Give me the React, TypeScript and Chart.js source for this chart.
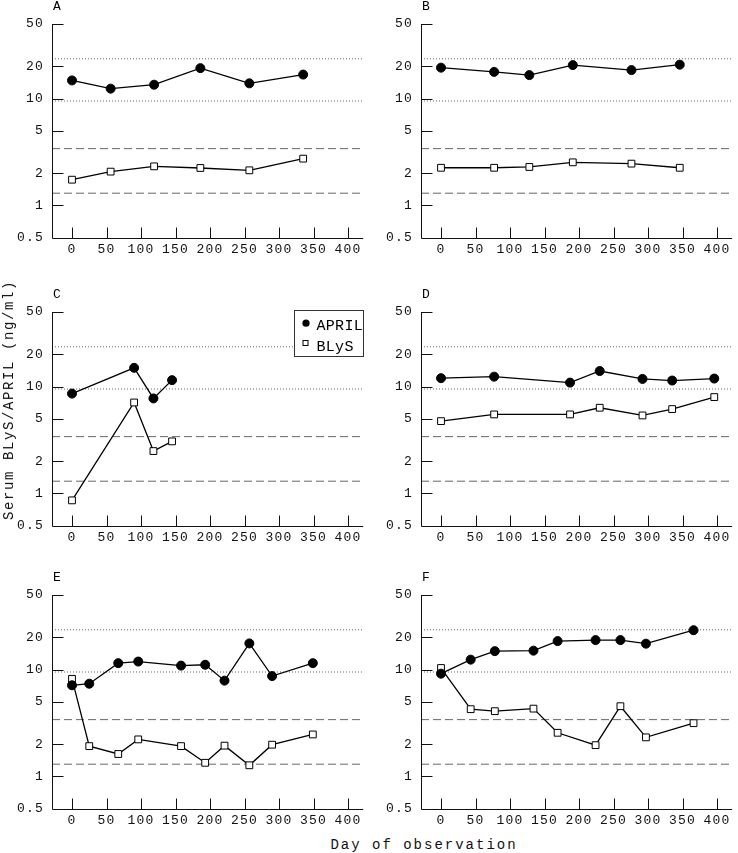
import React, { useEffect, useRef } from "react";
import { Chart, registerables } from "chart.js";

Chart.register(...registerables);

// ---- axis / reference data ----
const dayTicks = [0, 50, 100, 150, 200, 250, 300, 350, 400];
const concTicks = [0.5, 1, 2, 5, 10, 20, 50];
const dayMin = -29;
const dayMax = 422;
const aprilNormal = [9.5, 23.6];
const blysNormal = [1.3, 3.4];
const seriesNames = ["APRIL", "BLyS"];
const panelLetters = ["A", "B", "C", "D", "E", "F"];

// ---- panel data ----
const daysA = [0, 56, 119, 186, 257, 335];
const aprilA = [14.8, 12.4, 13.5, 19.3, 13.9, 16.8];
const blysA = [1.74, 2.07, 2.32, 2.24, 2.13, 2.74];

const daysB = [0, 77, 128, 191, 276, 346];
const aprilB = [19.5, 17.8, 16.6, 20.6, 18.5, 20.8];
const blysB = [2.25, 2.25, 2.29, 2.53, 2.46, 2.25];

const daysC = [0, 90, 118, 145];
const aprilC = [8.6, 15.0, 7.75, 11.5];
const blysC = [0.86, 7.1, 2.49, 3.07];

const daysD = [0, 77, 187, 230, 292, 335, 396];
const aprilD = [12.0, 12.4, 10.9, 14.0, 11.8, 11.4, 11.9];
const blysD = [4.75, 5.49, 5.49, 6.34, 5.37, 6.16, 7.98];

const daysE = [0, 25, 67, 96, 158, 193, 221, 257, 290, 349];
const aprilE = [7.13, 7.38, 11.5, 11.9, 10.9, 11.1, 7.88, 17.6, 8.7, 11.5];
const blysE = [8.2, 1.92, 1.62, 2.22, 1.92, 1.34, 1.94, 1.27, 1.98, 2.47];

const daysF = [0, 43, 78, 134, 169, 224, 260, 297, 366];
const aprilF = [9.16, 12.4, 14.9, 15.05, 18.5, 18.9, 18.9, 17.5, 23.4];
const blysF = [10.35, 4.26, 4.08, 4.31, 2.56, 1.96, 4.54, 2.32, 3.15];

const panelDays = [daysA, daysB, daysC, daysD, daysE, daysF];
const panelApril = [aprilA, aprilB, aprilC, aprilD, aprilE, aprilF];
const panelBlys = [blysA, blysB, blysC, blysD, blysE, blysF];

// ---- layout ----
const FONT = "'Liberation Mono', 'Courier New', monospace";
const CW = 369;
const CH = 265;
const PAD_TOP = 24;
const PLOT_H = 213.5;
const AXIS_W = 52;
const rowTops = [0, 288, 571];

function makeDecor(index: number) {
  return {
    id: "decor" + index,
    beforeDraw(chart: any) {
      chart.ctx.letterSpacing = "1.2px";
    },
    afterDraw(chart: any) {
      const ctx = chart.ctx;
      const xs = chart.scales.x;
      const ys = chart.scales.y;
      const area = chart.chartArea;
      ctx.save();
      ctx.setLineDash([]);
      ctx.globalAlpha = 1;
      ctx.globalCompositeOperation = "source-over";
      ctx.strokeStyle = "#111111";
      ctx.lineWidth = 1;
      const L = Math.round(area.left) + 0.5;
      const B = Math.round(area.bottom) + 0.5;
      const T = Math.round(area.top);
      const R = area.right;
      ctx.beginPath();
      // axis lines
      ctx.moveTo(L, T);
      ctx.lineTo(L, B);
      ctx.lineTo(R, B);
      // x tick marks (pointing up, into the plot)
      for (const v of dayTicks) {
        const px = Math.round(xs.getPixelForValue(v)) + 0.5;
        ctx.moveTo(px, B);
        ctx.lineTo(px, B - 11);
      }
      // y tick marks (pointing right, into the plot)
      for (const v of concTicks) {
        if (v === concTicks[0]) continue;
        const py = Math.round(ys.getPixelForValue(v)) + 0.5;
        ctx.moveTo(L, py);
        ctx.lineTo(L + 11, py);
      }
      ctx.stroke();

      // panel letter
      ctx.letterSpacing = "0px";
      ctx.fillStyle = "#000";
      ctx.font = "13px " + FONT;
      ctx.textAlign = "left";
      ctx.textBaseline = "alphabetic";
      ctx.fillText(panelLetters[index], area.left + 1, 9.5);

      if (index === 2) {
        const bx = Math.round(area.right - 69.5) + 0.5;
        const by = Math.round(area.top - 2) + 0.5;
        ctx.strokeStyle = "#333";
        ctx.lineWidth = 1;
        ctx.fillStyle = "#fff";
        ctx.fillRect(bx, by, 69, 46);
        ctx.strokeRect(bx, by, 69, 46);
        ctx.fillStyle = "#000";
        ctx.beginPath();
        ctx.arc(bx + 11.5, by + 12.7, 3.6, 0, Math.PI * 2);
        ctx.fill();
        ctx.fillStyle = "#fff";
        ctx.strokeStyle = "#000";
        ctx.fillRect(bx + 8.5, by + 30, 5, 5);
        ctx.strokeRect(bx + 8.5, by + 30, 5, 5);
        ctx.fillStyle = "#000";
        ctx.font = "15px " + FONT;
        ctx.letterSpacing = "0.3px";
        ctx.fillText(seriesNames[0], bx + 22, by + 19.3);
        ctx.fillText(seriesNames[1], bx + 22, by + 40);
      }
      ctx.restore();
    },
  };
}

function Panel({ index }: { index: number }) {
  const ref = useRef<HTMLCanvasElement>(null);
  useEffect(() => {
    const canvas = ref.current;
    if (!canvas) return;
    const days = panelDays[index];
    const pts = (ys: number[]) => days.map((d, i) => ({ x: d, y: ys[i] }));
    const hline = (v: number) => [
      { x: dayMin, y: v },
      { x: dayMax, y: v },
    ];
    const refStyle = (dash: number[]) => ({
      borderColor: "#666",
      borderWidth: 1,
      borderDash: dash,
      pointRadius: 0,
      order: 5,
    });
    const chart = new Chart(canvas, {
      type: "line",
      data: {
        datasets: [
          {
            label: seriesNames[0],
            data: pts(panelApril[index]),
            borderColor: "#000",
            borderWidth: 1.3,
            pointStyle: "circle",
            pointRadius: 4.5,
            pointBackgroundColor: "#000",
            pointBorderColor: "#000",
            pointBorderWidth: 1,
            order: 0,
          },
          {
            label: seriesNames[1],
            data: pts(panelBlys[index]),
            borderColor: "#000",
            borderWidth: 1.3,
            pointStyle: "rect",
            pointRadius: 4.8,
            pointBackgroundColor: "#fff",
            pointBorderColor: "#000",
            pointBorderWidth: 1,
            order: 1,
          },
          { label: "aprilHi", data: hline(aprilNormal[1]), ...refStyle([1, 2]) },
          { label: "aprilLo", data: hline(aprilNormal[0]), ...refStyle([1, 2]) },
          { label: "blysHi", data: hline(blysNormal[1]), ...refStyle([8, 4]) },
          { label: "blysLo", data: hline(blysNormal[0]), ...refStyle([8, 4]) },
        ] as any,
      },
      options: {
        animation: false,
        responsive: false,
        events: [],
        layout: { padding: { top: PAD_TOP, right: 1, left: 0, bottom: 0 } },
        elements: { line: { tension: 0 } },
        plugins: {
          legend: { display: false },
          tooltip: { enabled: false },
          title: { display: false },
        },
        scales: {
          x: {
            type: "linear",
            min: dayMin,
            max: dayMax,
            grid: { display: false, drawTicks: false, tickLength: 0 },
            border: { display: false },
            afterBuildTicks: (s: any) => {
              s.ticks = dayTicks.map((v) => ({ value: v }));
            },
            afterFit: (s: any) => {
              s.height = CH - PAD_TOP - PLOT_H;
            },
            ticks: {
              color: "#111",
              font: { family: FONT, size: 13 },
              padding: 4,
              maxRotation: 0,
              autoSkip: false,
              callback: (v: any) => String(v),
            },
          },
          y: {
            type: "logarithmic",
            min: concTicks[0],
            max: concTicks[concTicks.length - 1],
            grid: { display: false, drawTicks: false, tickLength: 0 },
            border: { display: false },
            afterBuildTicks: (s: any) => {
              s.ticks = concTicks.map((v) => ({ value: v }));
            },
            afterFit: (s: any) => {
              s.width = AXIS_W;
            },
            ticks: {
              color: "#111",
              font: { family: FONT, size: 13 },
              padding: 8,
              autoSkip: false,
              callback: (v: any) => String(v),
            },
          },
        },
      } as any,
      plugins: [makeDecor(index)],
    });
    return () => chart.destroy();
  }, [index]);
  return (
    <canvas
      ref={ref}
      width={CW}
      height={CH}
      style={{
        position: "absolute",
        left: (index % 2) * CW,
        top: rowTops[Math.floor(index / 2)],
        width: CW,
        height: CH,
      }}
    />
  );
}

export default function App() {
  return (
    <div
      style={{
        position: "absolute",
        left: 0,
        top: 0,
        width: 738,
        height: 853,
        background: "#fff",
        fontFamily: FONT,
        color: "#111",
        overflow: "hidden",
      }}
    >
      {panelLetters.map((l, i) => (
        <Panel key={l} index={i} />
      ))}
      <div
        style={{
          position: "absolute",
          left: 424,
          top: 845,
          transform: "translate(-50%, -50%)",
          fontSize: 14,
          letterSpacing: "2px",
          whiteSpace: "nowrap",
        }}
      >
        Day of observation
      </div>
      <div
        style={{
          position: "absolute",
          left: 8.5,
          top: 400,
          transform: "translate(-50%, -50%) rotate(-90deg)",
          fontSize: 14,
          letterSpacing: "1.6px",
          whiteSpace: "nowrap",
        }}
      >
        Serum BLyS/APRIL (ng/ml)
      </div>
    </div>
  );
}
